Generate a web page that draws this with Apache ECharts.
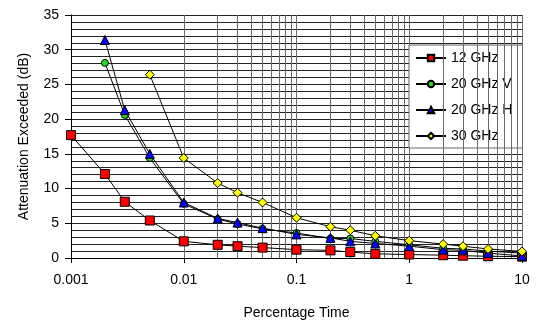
<!DOCTYPE html>
<html><head><meta charset="utf-8">
<script src="https://cdn.jsdelivr.net/npm/echarts@6/dist/echarts.min.js"></script>
<style>html,body{margin:0;padding:0;background:#fff}#chart{width:539px;height:326px}</style>
</head><body><div id="chart"></div>
<script>
// Rain attenuation exceedance curves
const percentTime = [0.001, 0.002, 0.003, 0.005, 0.01, 0.02, 0.03, 0.05, 0.1, 0.2, 0.3, 0.5, 1, 2, 3, 5, 10];
const att12GHz  = [17.7, 12.1, 8.1, 5.4, 2.4, 1.9, 1.7, 1.5, 1.2, 1.1, 0.85, 0.6, 0.5, 0.4, 0.33, 0.25, 0.2];
const att20GHzV = [null, 28.1, 20.6, 14.4, 7.8, 5.6, 4.9, 4.2, 3.6, 2.8, 2.8, 2.4, 1.9, 1.4, 1.3, 1.0, 0.7];
const att20GHzH = [null, 31.4, 21.3, 15.0, 8.0, 5.7, 5.1, 4.3, 3.4, 2.9, 2.4, 2.1, 1.7, 1.2, 1.1, 0.7, 0.3];
const att30GHz  = [null, null, null, 26.4, 14.4, 10.8, 9.4, 8.0, 5.8, 4.5, 4.0, 3.2, 2.5, 2.0, 1.7, 1.3, 0.95];
const seriesNames = ['12 GHz', '20 GHz V', '20 GHz H', '30 GHz'];
const xTickLabels = ['0.001', '0.01', '0.1', '1', '10'];
const yTickLabels = ['0', '5', '10', '15', '20', '25', '30', '35'];

// intermediate log gridlines (2..9 within each decade)
const decades = [0.001, 0.01, 0.1, 1];
const minorX = [];
decades.forEach(d => { for (let m = 2; m <= 9; m++) minorX.push(+(d * m).toPrecision(3)); });

const pairs = arr => percentTime.map((x, i) => [x, arr[i]]).filter(p => p[1] !== null);

const FONT = 'Liberation Sans, Arial, sans-serif';
const markerStyle = (color) => ({ color: color, borderColor: '#000', borderWidth: 1 });
const lineSeries = (name, arr, symbol, size, color) => ({
  name: name, type: 'line', data: pairs(arr), z: 5,
  symbol: symbol, symbolSize: size, showAllSymbol: true,
  lineStyle: { color: '#000', width: 1 },
  itemStyle: markerStyle(color),
  emphasis: { disabled: true },
  animation: false
});

const chart = echarts.init(document.getElementById('chart'), null, { renderer: 'canvas' });
chart.setOption({
  animation: false,
  backgroundColor: '#fff',
  textStyle: { fontFamily: FONT },
  grid: { left: 71, right: 17, top: 15, bottom: 68 },
  legend: {
    orient: 'vertical', left: 409, top: 45, width: 113,
    padding: [5, 10, 4, 6], itemGap: 10, itemWidth: 30, itemHeight: 8,
    backgroundColor: '#fff', borderColor: '#666', borderWidth: 1,
    textStyle: { fontFamily: FONT, fontSize: 14, color: '#000', lineHeight: 16 },
    data: seriesNames
  },
  xAxis: {
    type: 'log', logBase: 10, min: 0.001, max: 10,
    name: 'Percentage Time', nameLocation: 'middle', nameGap: 48,
    nameTextStyle: { fontFamily: FONT, fontSize: 14, color: '#000' },
    axisLine: { show: true, lineStyle: { color: '#000', width: 1 } },
    axisTick: { show: true, length: 5, lineStyle: { color: '#000' } },
    axisLabel: {
      margin: 15, fontFamily: FONT, fontSize: 14, color: '#000',
      formatter: v => xTickLabels[Math.round(Math.log10(v) + 3)]
    },
    splitLine: { show: true, lineStyle: { color: '#6a6a6a', width: 1 } }
  },
  yAxis: {
    type: 'value', min: 0, max: 35, interval: 5,
    name: 'Attenuation Exceeded (dB)', nameLocation: 'middle', nameGap: 40,
    nameTextStyle: { fontFamily: FONT, fontSize: 14, color: '#000' },
    axisLine: { show: true, lineStyle: { color: '#000', width: 1 } },
    axisTick: { show: true, length: 6, lineStyle: { color: '#000' } },
    axisLabel: {
      margin: 12, fontFamily: FONT, fontSize: 14, color: '#000',
      formatter: v => yTickLabels[Math.round(v / 5)]
    },
    splitLine: { show: true, lineStyle: { color: '#222', width: 1 } },
    minorTick: { show: false, splitNumber: 5 },
    minorSplitLine: { show: true, lineStyle: { color: '#222', width: 1 } }
  },
  series: [
    {
      name: 'grid', type: 'line', data: [], z: 1, silent: true,
      markLine: {
        silent: true, symbol: 'none', animation: false,
        label: { show: false },
        lineStyle: { color: '#6a6a6a', width: 1, type: 'solid' },
        emphasis: { disabled: true },
        data: minorX.map(x => ({ xAxis: x }))
      }
    },
    lineSeries(seriesNames[0], att12GHz, 'rect', 9, '#ff0000'),
    lineSeries(seriesNames[1], att20GHzV, 'circle', 7, '#22dd22'),
    lineSeries(seriesNames[2], att20GHzH, 'triangle', 9, '#0000ff'),
    lineSeries(seriesNames[3], att30GHz, 'diamond', 9, '#ffff00')
  ]
});
</script>
</body></html>
